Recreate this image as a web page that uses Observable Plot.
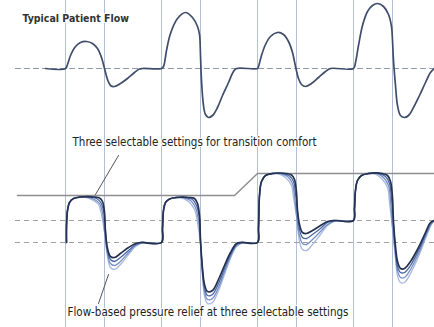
<!DOCTYPE html>
<html>
<head>
<meta charset="utf-8">
<script src="https://cdn.jsdelivr.net/npm/d3@7"></script>
<script src="https://cdn.jsdelivr.net/npm/@observablehq/plot@0.6"></script>
<style>
  html, body { margin: 0; padding: 0; background: #fff; }
  #chart svg { display: block; }
</style>
</head>
<body>
<div id="chart"></div>
<script>
// Diagram units: x = time, y = amplitude (down-positive diagram units)
const breathMarks = [65, 104, 161, 200, 257, 296, 353, 392];

const flowBaseline = [[15, 68], [434, 68]];
const pressureLevels = [220, 242];

const patientFlow = [
  [45,68],[65,68],[67,64],[70,55],[75,46],[80,42],[86,41],[92,43],[97,48],[101,57],[104,68],[107,79],[110,85],[114,86],[120,83],[127,78],[134,72],[139,68.5],[142,68],[161,68],
  [163,66],[166,50],[170,33],[177,18],[185,12],[192,17],[197,26],[199,34],[200,55],[201,80],[203,105],[205,114],[208,117],[212,115],[217,107],[222,95],[228,82],[233,71],[236,68],[257,68],
  [258,66],[261,55],[265,44],[270,36],[277,32],[283,34],[288,41],[292,52],[295,66],[298,78],[301,84],[305,86],[311,83],[318,77],[325,71],[330,68],[353,68],
  [355,62],[358,45],[362,25],[367,11],[372,5],[377,3],[383,6],[388,14],[391,26],[392,40],[393,60],[395,85],[397,105],[400,115],[404,117],[408,115],[413,107],[419,95],[425,82],[430,72],[434,68]
];

const ipapTrace = [[17,195],[234,195],[257,173],[434,173]];

const pressureMain = [
  [66,242],[66,226],[67,210],[69,202],[73,198],[80,196.5],[94,196.5],[99,197.5],[102,201],[104,212],[105,232],[107,248],[110,256],[114,257],[120,253],[128,247],[135,243],[140,242],[161,242],
  [162,228],[163,210],[165,202],[169,198.5],[176,197],[189,197],[194,198],[197,203],[199,215],[200,240],[202,268],[204,284],[207,291],[212,290],[218,279],[224,265],[230,252],[236,243],[240,242],[257,242],
  [258,228],[259,195],[261,181],[265,175],[272,173],[286,173],[291,174.5],[294,179],[296,192],[297,210],[299,224],[302,232],[306,233],[312,230],[320,225],[327,221],[333,220],[353,220],
  [354,208],[355,190],[357,180],[361,175],[368,173],[382,173],[387,175],[390,181],[392,197],[393,222],[395,246],[397,261],[400,268],[404,268],[410,261],[418,247],[425,232],[430,222],[434,220]
];
const pressureSetting1 = [
  [66,242],[66,226],[67,210],[69,202],[73,198],[80,196.5],[90,196.5],[96,198],[100,201.5],[103,210],[105,230],[107,250],[110,259],[114,261],[120,257],[128,250],[135,244],[141,242],[161,242],
  [162,228],[163,210],[165,202],[169,198.5],[176,197],[186,197],[192,199],[196,205],[199,218],[200,240],[202,270],[204,287],[207,295],[212,294],[218,283],[224,268],[230,254],[236,244],[241,242],[257,242],
  [258,228],[259,195],[261,181],[265,175],[272,173],[283,173],[289,175.5],[293,181],[295,193],[297,212],[299,229],[302,237],[306,238],[312,234],[320,228],[327,222],[334,220],[353,220],
  [354,208],[355,190],[357,180],[361,175],[368,173],[379,173],[385,176],[389,183],[391,198],[393,224],[395,250],[397,266],[400,272],[404,272],[410,265],[418,250],[425,234],[430,223],[434,220]
];
const pressureSetting2 = [
  [66,242],[66,226],[67,210],[69,202],[73,198],[80,196.5],[87,196.5],[94,199],[99,203],[102,212],[104,230],[107,253],[110,263],[114,265],[120,261],[128,252],[135,245],[142,242],[161,242],
  [162,228],[163,210],[165,202],[169,198.5],[176,197],[183,197],[190,200],[195,207],[198,220],[200,242],[202,273],[204,291],[207,299],[212,298],[218,287],[224,271],[230,256],[236,245],[242,242],[257,242],
  [258,228],[259,195],[261,181],[265,175],[272,173],[280,173],[287,176],[292,183],[294,195],[296,214],[299,235],[302,243],[306,244],[312,239],[320,231],[327,224],[335,220],[353,220],
  [354,208],[355,190],[357,180],[361,175],[368,173],[376,173],[383,177],[388,185],[390,200],[392,226],[395,254],[397,270],[400,277],[404,277],[410,269],[418,253],[425,236],[431,223],[434,220]
];
const pressureSetting3 = [
  [66,242],[66,226],[67,210],[69,202],[73,198],[78,196.5],[84,196.5],[92,199.5],[98,204],[101,214],[104,232],[107,256],[110,267],[114,269],[120,264],[128,254],[135,246],[143,242],[161,242],
  [162,228],[163,210],[165,202],[169,198.5],[175,197],[180,197],[188,201],[194,209],[197,222],[200,244],[202,276],[204,295],[207,303],[212,302],[218,290],[224,274],[230,258],[236,246],[243,242],[257,242],
  [258,228],[259,195],[261,181],[265,175],[271,173],[277,173],[285,177],[291,185],[293,197],[296,216],[299,241],[302,249],[306,250],[312,244],[320,234],[327,225],[336,220],[353,220],
  [354,208],[355,190],[357,180],[361,175],[367,173],[373,173],[381,178],[387,187],[389,202],[392,228],[395,258],[397,275],[400,282],[404,282],[410,273],[418,256],[425,238],[431,224],[434,220]
];

const leaderTop = [[118,155],[95,194]];
const leaderBottom = [[108,274],[98,303]];

const labels = [
  {text: "Typical Patient Flow", x: 22, y: 18, bold: true},
  {text: "Three selectable settings for transition comfort", x: 72, y: 142, bold: false},
  {text: "Flow-based pressure relief at three selectable settings", x: 67, y: 312, bold: false}
];

const px = d => d[0], py = d => d[1];
const font = "'Liberation Sans Narrow', 'DejaVu Sans Condensed', sans-serif";

const chart = Plot.plot({
  width: 434,
  height: 327,
  margin: 0,
  x: {domain: [0, 434], axis: null},
  y: {domain: [0, 327], reverse: true, axis: null},
  style: {background: "#fff"},
  marks: [
    Plot.ruleX(breathMarks, {stroke: "#b3bfd5", strokeWidth: 1}),
    Plot.line(flowBaseline, {x: px, y: py, stroke: "#8a98b0", strokeWidth: 1.1, strokeDasharray: "5,4"}),
    Plot.ruleY(pressureLevels, {x1: 15, x2: 434, stroke: "#a0a0a0", strokeWidth: 1.1, strokeDasharray: "5,4"}),
    Plot.line(ipapTrace, {x: px, y: py, stroke: "#8e8e8e", strokeWidth: 1.5}),
    Plot.line(patientFlow, {x: px, y: py, stroke: "#3f4d6b", strokeWidth: 1.7, curve: "catmull-rom"}),
    Plot.line(pressureSetting3, {x: px, y: py, stroke: "#a8b8de", strokeWidth: 1.3, curve: "catmull-rom"}),
    Plot.line(pressureSetting2, {x: px, y: py, stroke: "#7590c6", strokeWidth: 1.3, curve: "catmull-rom"}),
    Plot.line(pressureSetting1, {x: px, y: py, stroke: "#4a67a3", strokeWidth: 1.3, curve: "catmull-rom"}),
    Plot.line(pressureMain, {x: px, y: py, stroke: "#25314f", strokeWidth: 1.7, curve: "catmull-rom"}),
    Plot.line(leaderTop, {x: px, y: py, stroke: "#555", strokeWidth: 1}),
    Plot.line(leaderBottom, {x: px, y: py, stroke: "#555", strokeWidth: 1}),
    Plot.text(labels.filter(d => d.bold), {x: "x", y: "y", text: "text", textAnchor: "start", fontSize: 10.5, fontWeight: "bold", fontFamily: font, fill: "#333", stroke: "#fff", strokeWidth: 2, paintOrder: "stroke"}),
    Plot.text(labels.filter(d => !d.bold), {x: "x", y: "y", text: "text", textAnchor: "start", fontSize: 11.5, fontFamily: font, fill: "#222", stroke: "#fff", strokeWidth: 2, paintOrder: "stroke"})
  ]
});
document.getElementById("chart").appendChild(chart);
</script>
</body>
</html>
